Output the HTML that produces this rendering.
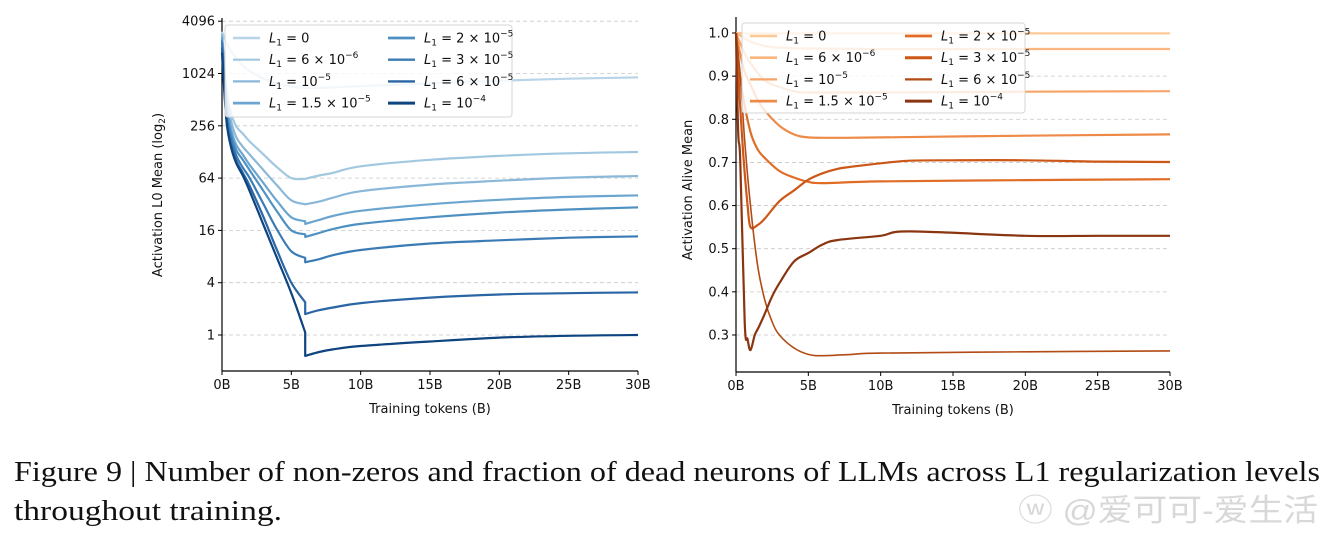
<!DOCTYPE html>
<html><head><meta charset="utf-8"><style>
html,body{margin:0;padding:0;background:#fff;}
svg{display:block;font-family:"DejaVu Sans","Liberation Sans",sans-serif;}
</style></head><body>
<svg id="fig" width="1336" height="533" viewBox="0 0 1336 533" xmlns="http://www.w3.org/2000/svg">
<g id="left"></g>
<g id="right"></g>
<text x="14" y="481" font-family="Liberation Serif, serif" font-size="29" textLength="1306" lengthAdjust="spacingAndGlyphs" fill="#111">Figure 9 | Number of non-zeros and fraction of dead neurons of LLMs across L1 regularization levels</text>
<text x="14" y="520" font-family="Liberation Serif, serif" font-size="29" textLength="268" lengthAdjust="spacingAndGlyphs" fill="#111">throughout training.</text>
<text x="1018" y="521" font-family="Liberation Sans, Noto Sans CJK SC, sans-serif" font-size="31" fill="#d8d8d8" textLength="300" lengthAdjust="spacingAndGlyphs">ⓦ @爱可可-爱生活</text>
</svg>
<script>
// ---- left chart data (log2 of L0 mean) ----
const leftX = [0,0.3,0.6,1,1.5,2,3,4,5,6,6,7,8,10,15,20,25,30];
const leftS0 = [11.6,11.2,10.9,10.6,10.3,10.1,9.8,9.6,9.5,9.45,9.45,9.45,9.47,9.52,9.62,9.72,9.8,9.85];
const leftS1 = [11.5,9.5,8.6,8.0,7.7,7.4,6.9,6.4,6.0,5.97,5.97,6.1,6.2,6.45,6.7,6.85,6.95,7.0];
const leftS2 = [11.5,9.2,8.3,7.6,7.2,6.9,6.3,5.7,5.15,5.0,5.0,5.1,5.25,5.5,5.75,5.9,6.02,6.08];
const leftS3 = [11.4,9.0,8.0,7.3,6.9,6.5,5.8,5.1,4.5,4.35,4.25,4.4,4.55,4.75,5.0,5.17,5.28,5.34];
const leftS4 = [11.3,8.8,7.8,7.1,6.7,6.3,5.5,4.7,4.0,3.85,3.75,3.9,4.05,4.25,4.5,4.68,4.8,4.88];
const leftS5 = [11.2,8.6,7.6,6.9,6.4,6.0,5.0,4.0,3.2,2.95,2.78,2.9,3.05,3.25,3.5,3.62,3.72,3.77];
const leftS6 = [11.0,8.4,7.4,6.7,6.2,5.7,4.5,3.2,2.0,1.25,0.8,0.95,1.05,1.22,1.43,1.55,1.6,1.63];
const leftS7 = [10.8,8.3,7.3,6.6,6.1,5.5,4.2,2.9,1.6,0.1,-0.8,-0.65,-0.55,-0.42,-0.25,-0.1,-0.03,0];
const leftTicks = ["1","4","16","64","256","1024","4096"];
const xTicks = ["0B","5B","10B","15B","20B","25B","30B"];
// ---- right chart data (alive fraction) ----
const rX0 = [0,1,2,5,10,20,30];
const rS0 = [1.0,0.999,0.999,0.999,0.999,0.999,0.999];
const rX1 = [0,0.5,1,2,3,5,10,20,30];
const rS1 = [1.0,0.99,0.98,0.97,0.966,0.964,0.963,0.963,0.963];
const rX2 = [0,0.5,1,2,3,4,5,10,20,30];
const rS2 = [1.0,0.96,0.93,0.89,0.875,0.865,0.862,0.862,0.864,0.865];
const rX3 = [0,0.3,0.6,1,1.5,2,3,4,5,7,10,20,30];
const rS3 = [1.0,0.95,0.91,0.88,0.845,0.82,0.785,0.765,0.758,0.757,0.758,0.762,0.765];
const rX4 = [0,0.2,0.5,1,1.5,2,3,4,5,6,10,20,30];
const rS4 = [1.0,0.92,0.85,0.77,0.73,0.71,0.68,0.665,0.655,0.652,0.656,0.659,0.661];
const rX5 = [0,0.2,0.5,0.8,1,1.5,2,3,4,5,6,7,8,10,12,15,20,25,30];
const rS5 = [1.0,0.88,0.72,0.6,0.55,0.555,0.57,0.61,0.635,0.66,0.675,0.685,0.69,0.698,0.704,0.705,0.705,0.702,0.701];
const rX6 = [0,0.3,0.6,1,1.5,2,2.5,3,4,5,6,8,10,20,30];
const rS6 = [1.0,0.9,0.75,0.6,0.46,0.38,0.33,0.3,0.27,0.255,0.252,0.255,0.258,0.261,0.263];
const rX7 = [0,0.15,0.3,0.6,0.8,1,1.3,1.6,2,2.5,3,4,5,6,7,10,12,20,25,30];
const rS7 = [1.0,0.77,0.7,0.33,0.29,0.265,0.3,0.32,0.35,0.39,0.42,0.47,0.49,0.51,0.52,0.53,0.54,0.53,0.53,0.53];
const rTicks = [0.3,0.4,0.5,0.6,0.7,0.8,0.9,1.0];
const legendExp = [["0",""],["6 × 10","−6"],["10","−5"],["1.5 × 10","−5"],["2 × 10","−5"],["3 × 10","−5"],["6 × 10","−5"],["10","−4"]];

const NS="http://www.w3.org/2000/svg";
function mk(p,tag,at){const e=document.createElementNS(NS,tag);for(const k in at)e.setAttribute(k,at[k]);p.appendChild(e);return e;}

// axis functions
const lx = v => 222 + v/30*416;
const ly = v => 335 - v*26.15;
const rx = v => 736 + v/30*434;
const ry = v => 33 + (1.0-v)*431.4;

function drawAxes(g,x0,x1,yTop,yBot,ticksY,tyFn,labFn,xf,xlabel,ylabel,ylx,yly){
  ticksY.forEach((t,i)=>{
    const y=tyFn(t,i);
    const gl=mk(g,'line',{x1:x0,x2:x1,y1:y,y2:y,stroke:'#c8c8c8','stroke-dasharray':'4,3','stroke-width':0.8});
    
    
    mk(g,'line',{x1:x0-4,x2:x0,y1:y,y2:y,stroke:'#000','stroke-width':1});
    const tl=mk(g,'text',{x:x0-7,y:y+4.5,'text-anchor':'end','font-size':13,fill:'#111'});
    tl.textContent=labFn(t);
    
    
  });
  xTicks.forEach((t,i)=>{
    const x=xf(i*5);
    mk(g,'line',{x1:x,x2:x,y1:yBot,y2:yBot+4,stroke:'#000','stroke-width':1});
    const tl=mk(g,'text',{x:x,y:yBot+18,'text-anchor':'middle','font-size':13,fill:'#111'});
    tl.textContent=t;
    
    
  });
  mk(g,'line',{x1:x0,x2:x0,y1:yTop,y2:yBot,stroke:'#000','stroke-width':1.2});
  mk(g,'line',{x1:x0,x2:x1,y1:yBot,y2:yBot,stroke:'#000','stroke-width':1.2});
  const xl=mk(g,'text',{x:(x0+x1)/2,y:yBot+42,'text-anchor':'middle','font-size':13,fill:'#111'});
  xl.textContent=xlabel;
  
  
  const yl=mk(g,'text',{x:0,y:0,'text-anchor':'middle','font-size':13,fill:'#111',transform:`translate(${ylx},${yly}) rotate(-90)`});
  yl.innerHTML=ylabel;
  
  
}
function drawLine(g,xs,ys,xf,yf,color,w){
  const P=xs.map((x,i)=>[xf(x),yf(ys[i])]);
  const n=P.length;
  let d='M'+P[0][0].toFixed(1)+','+P[0][1].toFixed(1);
  for(let i=0;i<n-1;i++){
    const p1=P[i],p2=P[i+1];
    if(Math.abs(p2[0]-p1[0])<0.01){d+=' L'+p2[0].toFixed(1)+','+p2[1].toFixed(1);continue;}
    let p0=P[i-1],p3=P[i+2];
    if(!p0||Math.abs(p0[0]-p1[0])<0.01)p0=p1;
    if(!p3||Math.abs(p3[0]-p2[0])<0.01)p3=p2;
    const c1=[p1[0]+(p2[0]-p0[0])/6,p1[1]+(p2[1]-p0[1])/6];
    const c2=[p2[0]-(p3[0]-p1[0])/6,p2[1]-(p3[1]-p1[1])/6];
    d+=` C${c1[0].toFixed(1)},${c1[1].toFixed(1)} ${c2[0].toFixed(1)},${c2[1].toFixed(1)} ${p2[0].toFixed(1)},${p2[1].toFixed(1)}`;
  }
  const p=mk(g,'path',{d:d,fill:'none',stroke:color,'stroke-width':w,'stroke-linejoin':'round'});
  
  
}
function drawLegend(g,bx,by,bw,bh,colors,widths){
  const r=mk(g,'rect',{x:bx,y:by,width:bw,height:bh,rx:3,fill:'rgba(255,255,255,0.8)',stroke:'#d6d6d6','stroke-width':1});
  
  
  legendExp.forEach((e,i)=>{
    const col=i<4?0:1, row=i%4;
    const lx0=bx+8+col*155, yy=by+13+row*21.7;
    mk(g,'line',{x1:lx0,x2:lx0+27,y1:yy,y2:yy,stroke:colors[i],'stroke-width':widths[i]+0.6});
    const t=mk(g,'text',{x:lx0+36,y:yy+4.5,'font-size':13,fill:'#111'});
    t.innerHTML=`<tspan font-style="italic">L</tspan><tspan font-size="9" dy="3">1</tspan><tspan dy="-3"> = ${e[0]}</tspan>`+(e[1]?`<tspan font-size="9" dy="-6">${e[1]}</tspan>`:'');
    
    
  });
}

// left
const L=document.getElementById('left');
drawAxes(L,222,638,18,371,leftTicks,(t,i)=>ly(i*2),t=>t,lx,'Training tokens (B)','Activation L0 Mean (log<tspan font-size="9" dy="3">2</tspan><tspan dy="-3">)</tspan>',162,195);
const blues=['#b7d4e8','#a2c8e0','#8ab8d8','#6ca5cf','#4f90c2','#3b7bb5','#2a65a5','#0e447f'];
const leftSeries=[leftS0,leftS1,leftS2,leftS3,leftS4,leftS5,leftS6,leftS7];
leftSeries.forEach((s,i)=>drawLine(L,leftX,s,lx,ly,blues[i],2.2));
drawLegend(L,225,25,287,92,blues,[2,1.6,1.6,2.2,2.2,1.8,1.8,2.4]);

// right
const R=document.getElementById('right');
drawAxes(R,736,1170,17,372,rTicks,(t)=>ry(t),t=>t.toFixed(1),rx,'Training tokens (B)','Activation Alive Mean',692,190);
const oranges=['#fdc895','#fbb57e','#f6a46a','#ee8a48','#e06d26','#cc5716','#b24b14','#8a3510'];
const rxs=[rX0,rX1,rX2,rX3,rX4,rX5,rX6,rX7];
const rss=[rS0,rS1,rS2,rS3,rS4,rS5,rS6,rS7];
rss.forEach((s,i)=>drawLine(R,rxs[i],s,rx,ry,oranges[i],i==6?1.6:2.2));
drawLegend(R,742,23,283,90,oranges,[2,2,1.6,2.2,2.2,2.4,1.6,2.4]);
</script>
</body></html>
